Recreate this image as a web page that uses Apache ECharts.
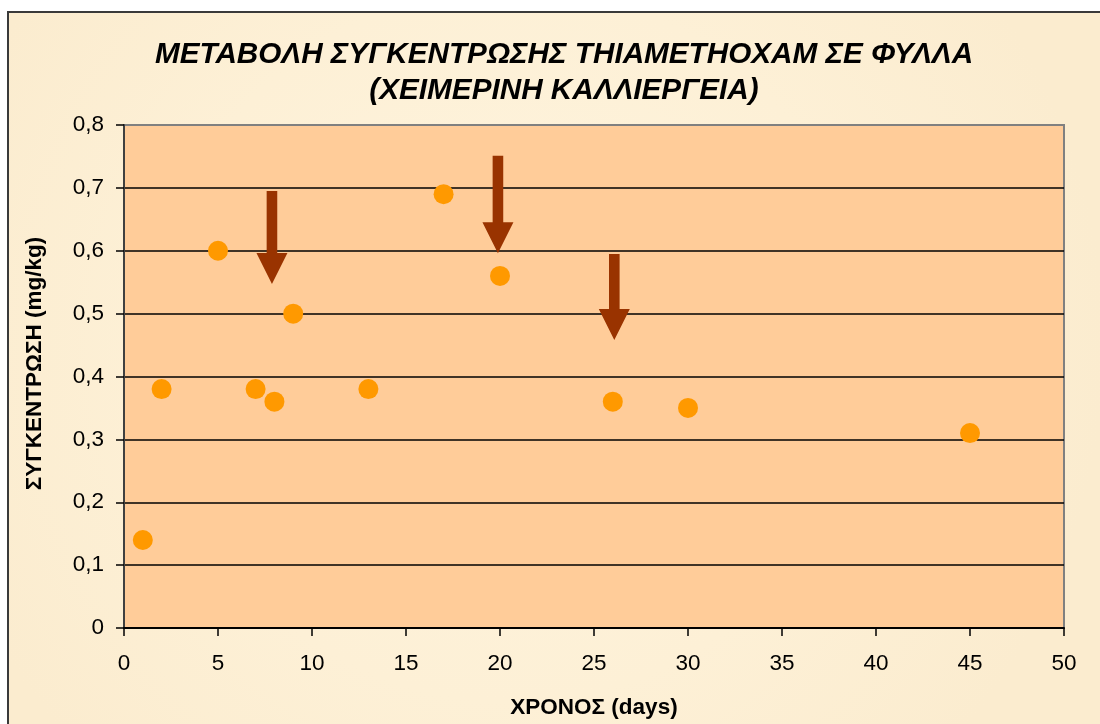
<!DOCTYPE html>
<html>
<head>
<meta charset="utf-8">
<script src="https://cdn.jsdelivr.net/npm/echarts@6/dist/echarts.min.js"></script>
<style>
  html, body { margin: 0; padding: 0; background: #ffffff; }
  #chart { width: 1100px; height: 724px; }
</style>
</head>
<body>
<div id="chart"></div>
<script>
// ---- data ----
const titleText = 'ΜΕΤΑΒΟΛΗ ΣΥΓΚΕΝΤΡΩΣΗΣ ΤΗΙΑΜΕΤΗΟΧΑΜ ΣΕ ΦΥΛΛΑ\n(ΧΕΙΜΕΡΙΝΗ ΚΑΛΛΙΕΡΓΕΙΑ)';
const xAxisName = 'ΧΡΟΝΟΣ (days)';
const yAxisName = 'ΣΥΓΚΕΝΤΡΩΣΗ (mg/kg)';
const days = [1, 2, 5, 7, 8, 9, 13, 17, 20, 26, 30, 45];
const concentration = [0.14, 0.38, 0.60, 0.38, 0.36, 0.50, 0.38, 0.69, 0.56, 0.36, 0.35, 0.31];
// arrows: x position, top of shaft, tip (data units)
const arrowX = [7.87, 19.89, 26.08];
const arrowTop = [0.695, 0.751, 0.595];
const arrowTip = [0.547, 0.596, 0.458];

const points = days.map((d, i) => [d, concentration[i]]);
const arrows = arrowX.map((x, i) => [x, arrowTop[i], arrowTip[i]]);

const chart = echarts.init(document.getElementById('chart'), null, { renderer: 'canvas' });

const fontFamily = '"Liberation Sans", Arial, sans-serif';

chart.setOption({
  backgroundColor: 'transparent',
  animation: false,
  graphic: [{
    type: 'rect',
    z: -10,
    silent: true,
    shape: { x: 8, y: 12, width: 1120, height: 740 },
    style: {
      fill: {
        type: 'radial', x: 0.45, y: 0.45, r: 0.8,
        colorStops: [
          { offset: 0, color: '#FEF4DE' },
          { offset: 0.6, color: '#FDF0D6' },
          { offset: 1, color: '#FBECCF' }
        ]
      },
      stroke: '#3a3a3a',
      lineWidth: 2
    }
  }],
  title: {
    text: titleText,
    left: 559,
    top: 32,
    textAlign: 'center',
    textStyle: {
      fontFamily: fontFamily,
      fontSize: 29.7,
      fontWeight: 'bold',
      fontStyle: 'italic',
      color: '#000000',
      lineHeight: 36
    }
  },
  grid: {
    left: 124,
    right: 36,
    top: 125,
    bottom: 96,
    show: true,
    backgroundColor: '#FFCC99',
    borderColor: '#808080',
    borderWidth: 2
  },
  xAxis: {
    type: 'value',
    min: 0,
    max: 50,
    interval: 5,
    name: xAxisName,
    nameLocation: 'middle',
    nameGap: 68,
    nameTextStyle: { fontFamily: fontFamily, fontSize: 22.5, fontWeight: 'bold', color: '#000' },
    axisLine: { show: true, onZero: false, lineStyle: { color: '#000', width: 2 } },
    axisTick: { show: true, inside: false, length: 8, lineStyle: { color: '#000', width: 1.5 } },
    axisLabel: { margin: 24, fontFamily: fontFamily, fontSize: 22.5, color: '#000' },
    splitLine: { show: false }
  },
  yAxis: {
    type: 'value',
    min: 0,
    max: 0.8,
    interval: 0.1,
    name: yAxisName,
    nameLocation: 'middle',
    nameGap: 78,
    nameRotate: 90,
    nameTextStyle: {
      fontFamily: fontFamily, fontSize: 22.5, fontWeight: 'bold', color: '#000',
      padding: [0, 0, 0, 26]
    },
    axisLine: { show: true, onZero: false, lineStyle: { color: '#404040', width: 2 } },
    axisTick: { show: true, inside: false, length: 8, lineStyle: { color: '#000', width: 1.5 } },
    axisLabel: {
      margin: 20,
      fontFamily: fontFamily,
      fontSize: 22.5,
      color: '#000',
      formatter: v => (v === 0 ? '0' : v.toFixed(1).replace('.', ','))
    },
    splitLine: {
      show: true,
      lineStyle: {
        color: ['#000', '#000', '#000', '#000', '#000', '#000', '#000', '#000', '#808080'],
        width: 1.5
      }
    }
  },
  series: [
    {
      type: 'scatter',
      data: points,
      symbol: 'circle',
      symbolSize: 20,
      itemStyle: { color: '#FF9900', opacity: 1 },
      z: 3
    },
    {
      type: 'custom',
      data: arrows,
      z: 4,
      clip: false,
      renderItem: function (params, api) {
        const x = api.value(0);
        const top = api.coord([x, api.value(1)]);
        const tip = api.coord([x, api.value(2)]);
        const cx = top[0];
        const shaftHalf = 5.3;
        const headHalf = 15.5;
        const headLen = 31;
        const baseY = tip[1] - headLen;
        return {
          type: 'polygon',
          shape: {
            points: [
              [cx - shaftHalf, top[1]],
              [cx + shaftHalf, top[1]],
              [cx + shaftHalf, baseY],
              [cx + headHalf, baseY],
              [cx, tip[1]],
              [cx - headHalf, baseY],
              [cx - shaftHalf, baseY]
            ]
          },
          style: { fill: '#993300', stroke: null }
        };
      }
    }
  ]
});
</script>
</body>
</html>
